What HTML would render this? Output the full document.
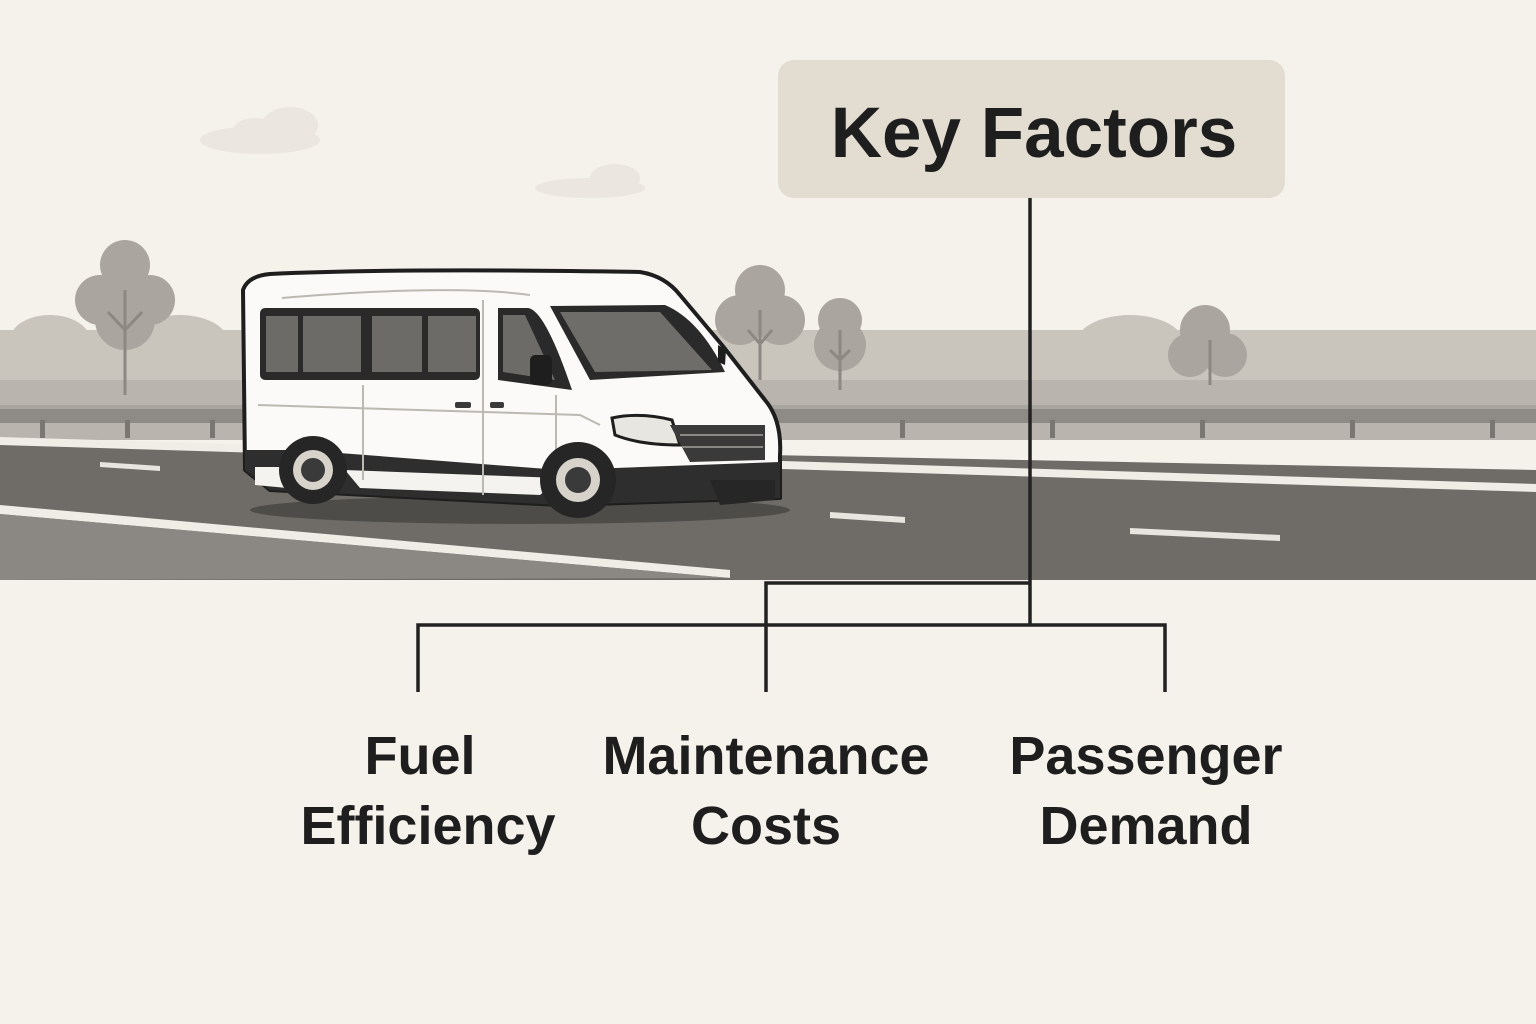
<!DOCTYPE html>
<html><head><meta charset="utf-8"><style>
html,body{margin:0;padding:0;background:#f5f1eb;}
svg{display:block}
text{font-family:"Liberation Sans",sans-serif;fill:#1e1e1e}
</style></head><body>
<svg width="1536" height="1024" viewBox="0 0 1536 1024" xmlns="http://www.w3.org/2000/svg">
<rect width="1536" height="1024" fill="#f5f1eb"/>
<g fill="#ebe6df">
<ellipse cx="260" cy="140" rx="60" ry="14"/><ellipse cx="290" cy="125" rx="28" ry="18"/><ellipse cx="255" cy="130" rx="22" ry="12"/>
<ellipse cx="590" cy="188" rx="55" ry="10"/><ellipse cx="615" cy="178" rx="25" ry="14"/>
</g>
<g fill="#c9c4bc">
<ellipse cx="50" cy="340" rx="40" ry="25"/><ellipse cx="180" cy="345" rx="50" ry="30"/>
<ellipse cx="1130" cy="345" rx="55" ry="30"/><ellipse cx="1290" cy="355" rx="60" ry="25"/>
<ellipse cx="1000" cy="360" rx="40" ry="22"/>
</g>
<rect x="0" y="330" width="1536" height="60" fill="#c9c4bc"/>
<rect x="0" y="380" width="1536" height="60" fill="#b9b4ad"/>
<g fill="#aaa59e">
<circle cx="125" cy="265" r="25"/><circle cx="100" cy="300" r="25"/><circle cx="150" cy="300" r="25"/><circle cx="125" cy="320" r="30"/>
<circle cx="760" cy="290" r="25"/><circle cx="740" cy="320" r="25"/><circle cx="780" cy="320" r="25"/>
<circle cx="840" cy="320" r="22"/><circle cx="840" cy="345" r="26"/>
<circle cx="1205" cy="330" r="25"/><circle cx="1190" cy="355" r="22"/><circle cx="1225" cy="355" r="22"/>
</g>
<g stroke="#8d8882" stroke-width="3" fill="none">
<path d="M125 290V395M108 312l17 18 17-18"/><path d="M760 310V380M748 330l12 14 12-14"/><path d="M840 330V390M830 350l10 10 10-10"/><path d="M1210 340V385"/>
</g>
<rect x="0" y="405" width="1536" height="18" fill="#8e8a85"/>
<rect x="0" y="405" width="1536" height="4" fill="#a8a49e"/>
<g fill="#7a7671"><rect x="40" y="420" width="5" height="18"/><rect x="125" y="420" width="5" height="18"/><rect x="210" y="420" width="5" height="18"/><rect x="900" y="420" width="5" height="18"/><rect x="1050" y="420" width="5" height="18"/><rect x="1200" y="420" width="5" height="18"/><rect x="1350" y="420" width="5" height="18"/><rect x="1490" y="420" width="5" height="18"/></g>
<polygon points="0,440 1536,470 1536,580 0,580" fill="#6f6c68"/>
<polygon points="0,437 1536,484 1536,492 0,445" fill="#f0ece6"/>
<polygon points="0,505 730,570 730,578 0,514" fill="#f0ece6"/>
<polygon points="0,514 730,578 0,580" fill="#8b8884"/>
<g fill="#e8e4de">
<polygon points="100,462 160,466 160,471 100,467"/><polygon points="830,512 905,517 905,523 830,518"/>
<polygon points="1130,528 1280,535 1280,541 1130,534"/>
</g>
<ellipse cx="520" cy="510" rx="270" ry="14" fill="#4e4c49"/>
<g stroke="#1e1e1e" stroke-width="4" stroke-linejoin="round">
<path d="M270,274 Q400,268 640,272 Q665,276 680,295 L722,345 L765,400 Q782,420 780,455 L780,498 L560,505 L270,490 L245,470 L243,290 Q248,276 270,274Z" fill="#fbfaf8"/>
</g>
<path d="M245,450 L300,450 L560,470 L780,462 L780,498 L560,505 L270,490 L245,470Z" fill="#2e2e2e"/>
<path d="M255,467 L285,467 L287,488 L255,485Z" fill="#f5f3ef"/>
<path d="M345,470 L560,478 L540,495 L360,488Z" fill="#f5f3ef"/>
<rect x="260" y="308" width="220" height="72" rx="5" fill="#2a2a2a"/>
<g fill="#6d6b68"><rect x="266" y="316" width="32" height="56"/><rect x="303" y="316" width="58" height="56"/><rect x="372" y="316" width="50" height="56"/><rect x="428" y="316" width="48" height="56"/></g>
<path d="M498,308 L528,308 Q545,310 572,390 L498,380Z" fill="#2a2a2a"/>
<path d="M503,315 L525,315 L555,380 L503,372Z" fill="#6d6b68"/>
<rect x="530" y="355" width="22" height="30" rx="5" fill="#1e1e1e"/>
<path d="M550,306 L665,305 Q700,320 725,372 L590,380Z" fill="#2a2a2a"/>
<path d="M560,312 L660,312 L712,370 L595,372Z" fill="#6f6d6a"/>
<path d="M718,345 L726,350 L725,365 L718,362Z" fill="#1e1e1e"/>
<g stroke="#bcb8b2" stroke-width="2" fill="none">
<path d="M282,298 Q450,284 530,295"/><path d="M258,405 L580,415 L600,425"/><path d="M363,385V480"/><path d="M483,300V495"/><path d="M556,395V470"/>
</g>
<rect x="455" y="402" width="16" height="6" rx="2" fill="#3a3a3a"/><rect x="490" y="402" width="14" height="6" rx="2" fill="#3a3a3a"/>
<path d="M612,418 Q640,412 672,420 L680,445 Q640,445 615,435Z" fill="#e8e6e0" stroke="#1e1e1e" stroke-width="3"/>
<path d="M670,425 L765,425 L765,460 L690,462Z" fill="#3a3a3a"/>
<g stroke="#8a8883" stroke-width="2"><path d="M680,435H763M682,447H763"/></g>
<circle cx="313" cy="470" r="34" fill="#262626"/><circle cx="313" cy="470" r="20" fill="#d7d3cb"/><circle cx="313" cy="470" r="12" fill="#3a3a3a"/>
<circle cx="578" cy="480" r="38" fill="#262626"/><circle cx="578" cy="480" r="22" fill="#d7d3cb"/><circle cx="578" cy="480" r="13" fill="#3a3a3a"/>
<path d="M710,480 L775,480 L775,500 L720,505Z" fill="#262626"/>
<rect x="778" y="60" width="507" height="138" rx="16" fill="#e3dcd0"/>
<text x="1034" y="157" font-size="71" font-weight="bold" text-anchor="middle">Key Factors</text>
<g stroke="#222" stroke-width="3.5" fill="none">
<path d="M1030,198V625"/><path d="M766,692V583H1030"/><path d="M418,692V625H1165V692"/>
</g>
<g font-size="54" text-anchor="middle" font-weight="bold">
<text x="420" y="774">Fuel</text><text x="428" y="844">Efficiency</text>
<text x="766" y="774">Maintenance</text><text x="766" y="844">Costs</text>
<text x="1146" y="774">Passenger</text><text x="1146" y="844">Demand</text>
</g>
</svg>
</body></html>
